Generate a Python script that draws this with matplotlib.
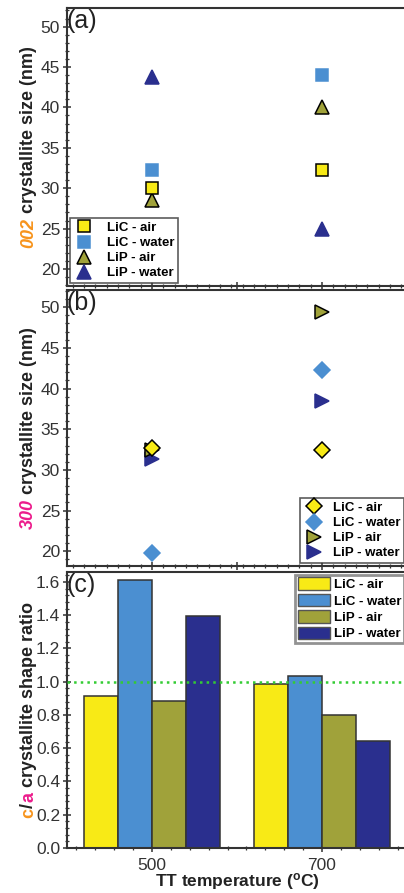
import matplotlib.pyplot as plt
from matplotlib.ticker import MultipleLocator
from matplotlib.patches import Patch

plt.rcParams['font.family'] = ['Liberation Sans', 'DejaVu Sans']
plt.rcParams['mathtext.fontset'] = 'custom'
plt.rcParams['mathtext.rm'] = 'Liberation Sans'
plt.rcParams['mathtext.bf'] = 'Liberation Sans:bold'

temps = [500, 700]
series_labels = ['LiC - air', 'LiC - water', 'LiP - air', 'LiP - water']

# (a) 002 crystallite size (nm)
size002_lic_air = [30.0, 32.2]
size002_lic_water = [32.2, 44.0]
size002_lip_air = [28.5, 40.0]
size002_lip_water = [43.8, 25.0]

# (b) 300 crystallite size (nm)
size300_lic_air = [32.7, 32.4]
size300_lic_water = [19.8, 42.3]
size300_lip_air = [32.5, 49.4]
size300_lip_water = [31.3, 38.5]

# (c) c/a shape ratio
ratio_lic_air = [0.914, 0.988]
ratio_lic_water = [1.614, 1.033]
ratio_lip_air = [0.884, 0.802]
ratio_lip_water = [1.395, 0.644]

YELLOW = '#f8ea16'
BLUE = '#4b8fd1'
OLIVE = '#a0a23a'
NAVY = '#2a2f8e'
ORANGE = '#f7941d'
PINK = '#ec1c8c'
TXT = '#222222'
colors = [YELLOW, BLUE, OLIVE, NAVY]

W, H = 404, 893
fig = plt.figure(figsize=(W / 100, H / 100), dpi=100)


def px_axes(left, top, right, bottom):
    return fig.add_axes([left / W, 1 - bottom / H, (right - left) / W, (bottom - top) / H])


ax_a = px_axes(67, 8, 407, 286)
ax_b = px_axes(67, 290, 407, 566)
ax_c = px_axes(67, 572, 407, 848)


def style_axis(ax, xminor):
    for sp in ax.spines.values():
        sp.set_linewidth(1.5)
        sp.set_color('#333333')
    ax.tick_params(which='major', direction='inout', length=6, width=1.1,
                   labelsize=12.5, colors='#333333', labelcolor='#333333', pad=2)
    ax.tick_params(which='minor', direction='inout', length=3.5, width=0.9, colors='#333333')
    ax.tick_params(axis='x', which='both', top=False)
    ax.tick_params(axis='y', which='both', right=False)
    ax.xaxis.set_minor_locator(MultipleLocator(xminor, offset=500 % xminor))


def stacked_ylabel(ax, parts, x=-0.1, size=13):
    renderer = fig.canvas.get_renderer()
    texts = []
    for s, color, style in parts:
        t = ax.text(x, 0, s, rotation=90, rotation_mode='anchor', ha='left', va='baseline',
                    transform=ax.transAxes, color=color, fontstyle=style,
                    fontweight='bold', fontsize=size)
        texts.append(t)
    lengths = [t.get_window_extent(renderer).height for t in texts]
    ax_h = ax.get_window_extent(renderer).height
    y = 0.5 - sum(lengths) / 2 / ax_h
    for t, l in zip(texts, lengths):
        t.set_y(y)
        y += l / ax_h


def panel_tag(ax, tag):
    ax.text(0.0, 0.995, tag, transform=ax.transAxes, fontsize=18, va='top', ha='left', color=TXT)


legend_font = {'weight': 'bold', 'size': 9.5}

# ---- (a) ----
a_vals = [size002_lic_air, size002_lic_water, size002_lip_air, size002_lip_water]
a_mk = ['s', 's', '^', '^']
a_ms = [8.5, 8.5, 10, 10]
a_edge = ['black', BLUE, 'black', NAVY]
for i, (vals, c, m, ms, ec, lab) in enumerate(zip(a_vals, colors, a_mk, a_ms, a_edge, series_labels)):
    ax_a.plot(temps, vals, ls='none', marker=m, ms=ms, mfc=c, mec=ec, mew=1.1, label=lab, zorder=6 - i)
ax_a.set_xlim(400, 800)
ax_a.set_ylim(17.9, 52.3)
ax_a.set_xticks([500, 600, 700])
ax_a.set_xticklabels([])
ax_a.set_yticks([20, 25, 30, 35, 40, 45, 50])
ax_a.yaxis.set_minor_locator(MultipleLocator(1))
style_axis(ax_a, 200 / 15)
panel_tag(ax_a, '(a)')
leg = ax_a.legend(loc='lower left', prop=legend_font, frameon=True,
                  fancybox=False, borderaxespad=0.2, labelspacing=0.22, handletextpad=0.9,
                  borderpad=0.3, handlelength=1.6)
leg.get_frame().set_edgecolor('#333333')
leg.get_frame().set_linewidth(1.2)
stacked_ylabel(ax_a, [('002', ORANGE, 'italic'), (' crystallite size (nm)', TXT, 'normal')])

# ---- (b) ----
b_vals = [size300_lic_air, size300_lic_water, size300_lip_air, size300_lip_water]
b_mk = ['D', 'D', '>', '>']
b_ms = [8, 8, 10, 10]
b_edge = ['black', BLUE, 'black', NAVY]
for i, (vals, c, m, ms, ec, lab) in enumerate(zip(b_vals, colors, b_mk, b_ms, b_edge, series_labels)):
    ax_b.plot(temps, vals, ls='none', marker=m, ms=ms, mfc=c, mec=ec, mew=1.1, label=lab, zorder=6 - i)
ax_b.set_xlim(400, 800)
ax_b.set_ylim(18.2, 52.1)
ax_b.set_xticks([500, 600, 700])
ax_b.set_xticklabels([])
ax_b.set_yticks([20, 25, 30, 35, 40, 45, 50])
ax_b.yaxis.set_minor_locator(MultipleLocator(1))
style_axis(ax_b, 200 / 15)
panel_tag(ax_b, '(b)')
leg = ax_b.legend(loc='lower right', prop=legend_font, frameon=True,
                  fancybox=False, borderaxespad=0.2, labelspacing=0.22, handletextpad=0.6,
                  borderpad=0.3, handlelength=1.6)
leg.get_frame().set_edgecolor('#333333')
leg.get_frame().set_linewidth(1.2)
stacked_ylabel(ax_b, [('300', PINK, 'italic'), (' crystallite size (nm)', TXT, 'normal')])

# ---- (c) ----
c_vals = [ratio_lic_air, ratio_lic_water, ratio_lip_air, ratio_lip_water]
offsets = [-60, -20, 20, 60]
for vals, c, off, lab in zip(c_vals, colors, offsets, series_labels):
    ax_c.bar([t + off for t in temps], vals, width=40, color=c, edgecolor='#333333',
             linewidth=1.1, label=lab, zorder=2)
ax_c.axhline(1.0, color='#33cc33', ls=':', lw=1.8, zorder=3)
ax_c.set_xlim(400, 800)
ax_c.set_ylim(0, 1.66)
ax_c.set_xticks(temps)
ax_c.set_yticks([0.0, 0.2, 0.4, 0.6, 0.8, 1.0, 1.2, 1.4, 1.6])
ax_c.yaxis.set_minor_locator(MultipleLocator(0.04))
style_axis(ax_c, 200 / 9)
ax_c.tick_params(axis='x', which='major', pad=4)
ax_c.yaxis.set_major_formatter(plt.FormatStrFormatter('%.1f'))
panel_tag(ax_c, '(c)')
handles = [Patch(facecolor=c, edgecolor='#555555', linewidth=1.0) for c in colors]
leg = ax_c.legend(handles, series_labels, loc='upper right', prop=legend_font,
                  frameon=True, fancybox=False, borderaxespad=0.2, labelspacing=0.2,
                  handletextpad=0.35, borderpad=0.2, handlelength=2.4, handleheight=1.1)
leg.get_frame().set_edgecolor('#777777')
leg.get_frame().set_linewidth(2.0)
stacked_ylabel(ax_c, [('c', ORANGE, 'normal'), ('/', TXT, 'normal'), ('a', PINK, 'normal'),
                      (' crystallite shape ratio', TXT, 'normal')])
ax_c.set_xlabel(r'TT temperature ($\mathbf{^o}$C)', fontsize=12.5, fontweight='bold',
                color=TXT, labelpad=-1)

fig.savefig('out.png', dpi=100)
